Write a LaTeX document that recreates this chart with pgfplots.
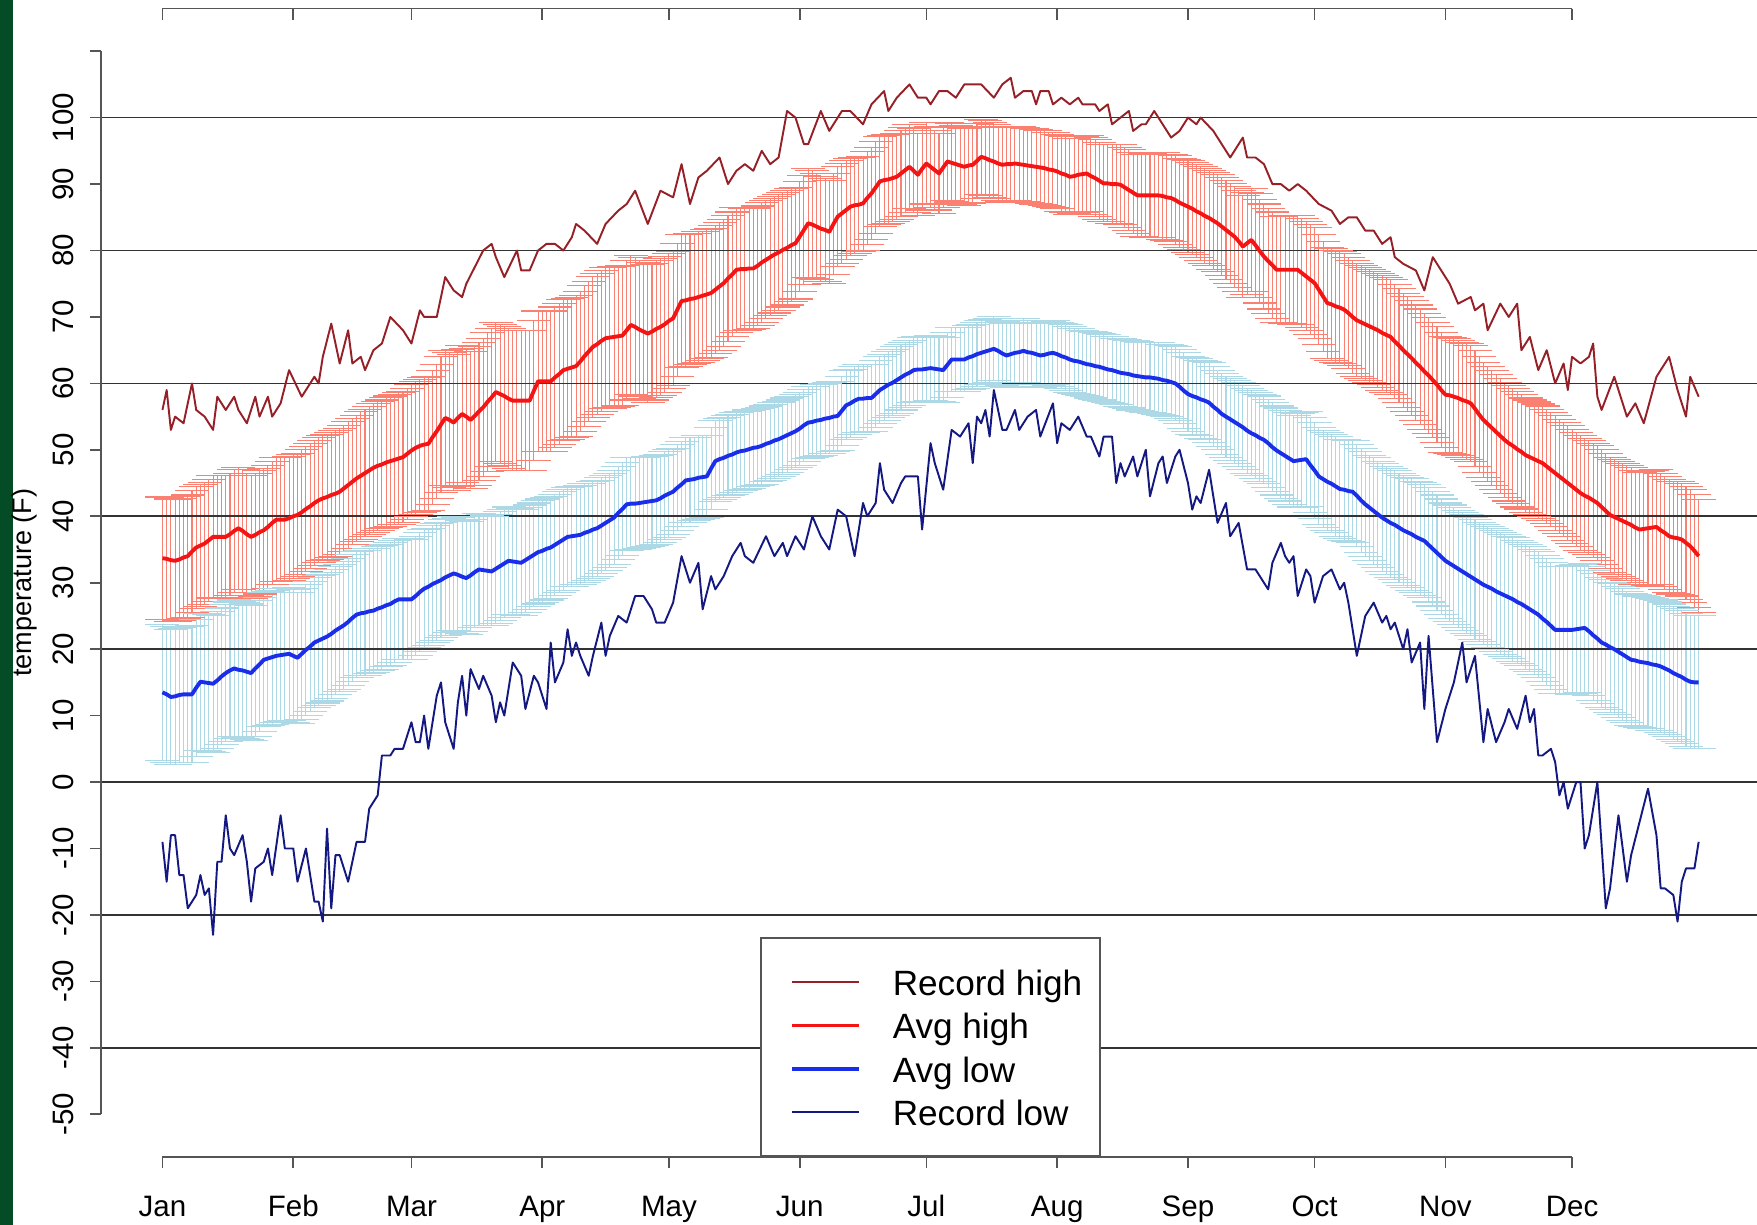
\documentclass[border=0pt]{standalone}
\usepackage{fontspec}
\setmainfont{Liberation Sans}
\usepackage{pgfplots}
\usepackage{pgfplotstable}
\pgfplotsset{compat=1.18}
\definecolor{rhcol}{RGB}{150,32,40}
\definecolor{ahcol}{RGB}{245,20,20}
\definecolor{alcol}{RGB}{25,45,235}
\definecolor{rlcol}{RGB}{20,25,130}
\definecolor{salmonc}{RGB}{250,128,114}
\definecolor{lblue}{RGB}{173,216,230}
\definecolor{stripgreen}{RGB}{3,76,38}
\definecolor{axgray}{RGB}{85,85,85}
\pgfplotstableread{
d ah sh al sl
1 33.7 9.2 13.5 10.2
2 33.6 9.2 13.2 10.2
3 33.4 9.2 12.8 10.2
4 33.3 9.2 12.9 10.2
5 33.5 9.2 13.1 10.2
6 33.8 9.2 13.2 10.2
7 34.0 9.2 13.2 10.2
8 34.7 9.2 13.2 10.3
9 35.3 9.2 14.2 10.3
10 35.6 9.2 15.1 10.3
11 35.9 9.2 15.0 10.3
12 36.4 9.2 14.9 10.3
13 36.9 9.2 14.8 10.3
14 36.9 9.2 15.3 10.3
15 36.9 9.2 15.9 10.3
16 36.9 9.2 16.4 10.3
17 37.3 9.2 16.8 10.3
18 37.8 9.2 17.1 10.3
19 38.2 9.2 16.9 10.2
20 37.8 9.2 16.8 10.2
21 37.3 9.2 16.6 10.2
22 36.9 9.2 16.4 10.2
23 37.2 9.3 17.1 10.2
24 37.6 9.3 17.7 10.1
25 37.9 9.3 18.4 10.1
26 38.4 9.3 18.6 10.1
27 39.0 9.3 18.8 10.1
28 39.5 9.3 19.0 10.1
29 39.5 9.3 19.1 10.0
30 39.5 9.3 19.2 10.0
31 39.7 9.3 19.3 10.0
32 40.0 9.3 19.0 10.0
33 40.2 9.3 18.7 9.9
34 40.6 9.4 19.3 9.9
35 41.1 9.4 19.9 9.9
36 41.5 9.4 20.4 9.8
37 42.0 9.4 21.0 9.8
38 42.4 9.4 21.3 9.8
39 42.7 9.4 21.6 9.7
40 42.9 9.4 21.9 9.7
41 43.2 9.4 22.3 9.7
42 43.4 9.5 22.8 9.6
43 43.7 9.5 23.2 9.6
44 44.2 9.5 23.6 9.6
45 44.7 9.5 24.1 9.5
46 45.2 9.5 24.7 9.5
47 45.7 9.5 25.2 9.5
48 46.1 9.6 25.4 9.4
49 46.5 9.6 25.5 9.4
50 46.9 9.6 25.7 9.4
51 47.3 9.7 25.8 9.3
52 47.6 9.7 26.1 9.3
53 47.8 9.7 26.3 9.3
54 48.1 9.8 26.6 9.2
55 48.3 9.8 26.8 9.2
56 48.5 9.8 27.2 9.2
57 48.7 9.9 27.5 9.1
58 48.9 9.9 27.5 9.1
59 49.4 9.9 27.5 9.1
60 49.9 10.0 27.5 9.0
61 50.3 10.0 28.0 9.0
62 50.6 10.0 28.6 8.9
63 50.8 10.1 29.1 8.9
64 50.9 10.1 29.4 8.8
65 51.9 10.1 29.8 8.8
66 52.8 10.1 30.1 8.8
67 53.8 10.2 30.4 8.7
68 54.8 10.2 30.8 8.7
69 54.5 10.2 31.1 8.6
70 54.1 10.2 31.4 8.6
71 54.8 10.3 31.2 8.6
72 55.4 10.3 30.9 8.5
73 55.0 10.3 30.7 8.5
74 54.5 10.3 31.1 8.4
75 55.1 10.4 31.6 8.4
76 55.8 10.4 32.0 8.4
77 56.4 10.4 31.9 8.3
78 57.2 10.4 31.8 8.3
79 57.9 10.4 31.7 8.2
80 58.7 10.4 32.1 8.2
81 58.4 10.4 32.5 8.2
82 58.1 10.4 32.9 8.1
83 57.7 10.5 33.3 8.1
84 57.4 10.5 33.2 8.0
85 57.4 10.5 33.1 8.0
86 57.4 10.5 33.0 8.0
87 57.4 10.5 33.4 7.9
88 57.4 10.5 33.8 7.9
89 58.9 10.5 34.2 7.8
90 60.3 10.6 34.6 7.8
91 60.3 10.6 34.8 7.8
92 60.3 10.6 35.1 7.7
93 60.3 10.6 35.3 7.7
94 60.9 10.6 35.7 7.6
95 61.4 10.6 36.1 7.6
96 62.0 10.6 36.5 7.6
97 62.2 10.6 36.9 7.5
98 62.4 10.6 37.0 7.5
99 62.6 10.6 37.1 7.4
100 63.3 10.6 37.2 7.4
101 64.1 10.6 37.5 7.4
102 64.8 10.6 37.7 7.3
103 65.5 10.6 38.0 7.3
104 65.9 10.6 38.2 7.2
105 66.4 10.6 38.6 7.2
106 66.8 10.6 39.0 7.2
107 66.9 10.6 39.4 7.1
108 67.0 10.6 39.8 7.1
109 67.1 10.5 40.5 7.0
110 67.2 10.5 41.1 7.0
111 68.0 10.5 41.8 7.0
112 68.8 10.5 41.9 6.9
113 68.5 10.4 41.9 6.9
114 68.1 10.4 42.0 6.8
115 67.8 10.4 42.1 6.8
116 67.5 10.4 42.2 6.8
117 67.8 10.3 42.3 6.7
118 68.2 10.3 42.4 6.7
119 68.5 10.3 42.7 6.6
120 68.9 10.2 43.1 6.6
121 69.4 10.1 43.4 6.6
122 69.8 10.1 43.7 6.5
123 71.1 10.0 44.3 6.5
124 72.4 10.0 44.8 6.4
125 72.5 9.9 45.4 6.4
126 72.7 9.9 45.5 6.4
127 72.8 9.8 45.6 6.3
128 73.0 9.8 45.8 6.3
129 73.2 9.7 45.9 6.2
130 73.4 9.7 46.0 6.2
131 73.6 9.7 47.2 6.2
132 74.1 9.6 48.3 6.1
133 74.6 9.6 48.6 6.1
134 75.1 9.5 48.8 6.0
135 75.8 9.5 49.1 6.0
136 76.4 9.4 49.3 6.0
137 77.1 9.4 49.6 6.0
138 77.2 9.3 49.8 5.9
139 77.2 9.2 49.9 5.9
140 77.3 9.2 50.1 5.9
141 77.3 9.1 50.3 5.8
142 77.7 9.0 50.4 5.8
143 78.2 9.0 50.6 5.8
144 78.6 8.9 50.9 5.7
145 79.0 8.8 51.1 5.7
146 79.4 8.8 51.4 5.7
147 79.7 8.7 51.6 5.6
148 80.1 8.6 51.9 5.6
149 80.4 8.6 52.2 5.6
150 80.8 8.5 52.5 5.5
151 81.1 8.4 52.8 5.5
152 82.1 8.3 53.2 5.5
153 83.1 8.2 53.7 5.4
154 84.1 8.2 54.1 5.4
155 83.9 8.1 54.2 5.4
156 83.6 8.0 54.4 5.4
157 83.3 7.9 54.5 5.3
158 83.1 7.8 54.7 5.3
159 82.8 7.7 54.8 5.3
160 84.0 7.6 55.0 5.3
161 85.1 7.5 55.1 5.2
162 85.6 7.5 55.9 5.2
163 86.1 7.4 56.7 5.2
164 86.6 7.3 57.0 5.1
165 86.8 7.2 57.4 5.1
166 86.9 7.1 57.7 5.1
167 87.1 7.1 57.7 5.1
168 87.9 7.0 57.8 5.1
169 88.6 6.9 57.8 5.0
170 89.5 6.9 58.4 5.0
171 90.4 6.8 59.0 5.0
172 90.6 6.7 59.4 5.0
173 90.7 6.7 59.8 5.0
174 90.9 6.6 60.1 5.0
175 91.1 6.5 60.5 5.0
176 91.6 6.5 60.9 4.9
177 92.1 6.4 61.3 4.9
178 92.6 6.3 61.6 4.9
179 92.0 6.3 62.0 4.9
180 91.4 6.2 62.1 4.9
181 92.3 6.2 62.1 4.9
182 93.1 6.1 62.2 4.9
183 92.6 6.1 62.3 4.9
184 92.1 6.0 62.2 4.9
185 91.6 6.0 62.1 4.9
186 92.5 6.0 62.0 4.9
187 93.4 5.9 62.8 4.9
188 93.2 5.9 63.6 4.8
189 93.0 5.8 63.6 4.8
190 92.8 5.8 63.6 4.8
191 92.6 5.8 63.6 4.8
192 92.8 5.7 63.9 4.8
193 92.9 5.7 64.1 4.8
194 93.5 5.6 64.4 4.8
195 94.1 5.6 64.6 4.8
196 93.9 5.6 64.8 4.8
197 93.6 5.6 65.0 4.8
198 93.4 5.6 65.2 4.8
199 93.1 5.6 64.9 4.8
200 92.9 5.6 64.5 4.8
201 93.0 5.6 64.2 4.8
202 93.0 5.6 64.4 4.8
203 93.1 5.6 64.6 4.8
204 93.0 5.6 64.7 4.8
205 92.9 5.6 64.9 4.8
206 92.8 5.6 64.7 4.8
207 92.7 5.6 64.6 4.8
208 92.6 5.6 64.4 4.8
209 92.5 5.6 64.2 4.8
210 92.4 5.6 64.3 4.8
211 92.2 5.6 64.5 4.8
212 92.1 5.6 64.6 4.8
213 91.9 5.6 64.4 4.8
214 91.6 5.7 64.1 4.9
215 91.4 5.7 63.9 4.9
216 91.1 5.7 63.6 4.9
217 91.2 5.7 63.4 4.9
218 91.4 5.7 63.3 4.9
219 91.5 5.7 63.1 4.9
220 91.6 5.7 62.9 4.9
221 91.2 5.8 62.8 5.0
222 90.9 5.8 62.6 5.0
223 90.5 5.8 62.5 5.0
224 90.1 5.8 62.3 5.0
225 90.1 5.8 62.1 5.0
226 90.0 5.9 62.0 5.0
227 90.0 5.9 61.8 5.0
228 89.9 6.0 61.6 5.1
229 89.5 6.0 61.5 5.1
230 89.1 6.1 61.4 5.1
231 88.7 6.1 61.2 5.2
232 88.3 6.2 61.1 5.2
233 88.3 6.2 61.0 5.2
234 88.3 6.3 60.9 5.3
235 88.3 6.3 60.9 5.3
236 88.3 6.4 60.8 5.3
237 88.3 6.4 60.7 5.4
238 88.2 6.5 60.5 5.4
239 88.0 6.5 60.4 5.4
240 87.9 6.6 60.2 5.5
241 87.6 6.7 60.0 5.6
242 87.2 6.7 59.5 5.6
243 86.9 6.8 58.9 5.7
244 86.6 6.9 58.4 5.7
245 86.3 6.9 58.1 5.8
246 85.9 7.0 57.9 5.8
247 85.6 7.1 57.6 5.9
248 85.2 7.1 57.4 5.9
249 84.9 7.2 57.1 6.0
250 84.5 7.3 56.5 6.0
251 84.1 7.3 56.0 6.0
252 83.6 7.4 55.4 6.1
253 83.1 7.5 55.0 6.1
254 82.6 7.5 54.6 6.2
255 82.1 7.6 54.2 6.2
256 81.4 7.6 53.8 6.3
257 80.6 7.7 53.4 6.3
258 81.1 7.7 52.9 6.4
259 81.6 7.8 52.5 6.4
260 80.8 7.8 52.2 6.5
261 79.9 7.8 51.8 6.5
262 79.1 7.9 51.5 6.6
263 78.4 7.9 51.0 6.6
264 77.8 8.0 50.4 6.7
265 77.1 8.0 49.9 6.7
266 77.1 8.0 49.5 6.8
267 77.1 8.1 49.1 6.8
268 77.1 8.1 48.7 6.9
269 77.1 8.2 48.3 6.9
270 77.1 8.2 48.4 7.0
271 76.6 8.2 48.5 7.1
272 76.1 8.2 48.6 7.1
273 75.6 8.3 47.7 7.2
274 75.1 8.3 46.9 7.2
275 74.1 8.3 46.0 7.3
276 73.1 8.3 45.6 7.3
277 72.1 8.3 45.2 7.4
278 71.9 8.4 44.9 7.4
279 71.6 8.4 44.5 7.5
280 71.4 8.4 44.1 7.5
281 71.1 8.4 44.0 7.6
282 70.6 8.4 43.8 7.6
283 70.0 8.5 43.7 7.7
284 69.5 8.5 43.1 7.7
285 69.2 8.5 42.4 7.8
286 68.9 8.5 41.8 7.9
287 68.6 8.5 41.3 7.9
288 68.3 8.5 40.8 8.0
289 68.0 8.6 40.3 8.0
290 67.6 8.6 39.8 8.1
291 67.3 8.6 39.4 8.1
292 67.0 8.6 39.0 8.2
293 66.3 8.6 38.7 8.2
294 65.7 8.6 38.3 8.2
295 65.0 8.6 37.9 8.3
296 64.4 8.7 37.6 8.3
297 63.8 8.7 37.3 8.4
298 63.1 8.7 36.9 8.4
299 62.5 8.7 36.6 8.5
300 61.8 8.7 36.3 8.5
301 61.2 8.7 35.7 8.6
302 60.5 8.7 35.1 8.6
303 59.8 8.7 34.5 8.7
304 59.0 8.7 33.9 8.7
305 58.3 8.7 33.3 8.7
306 58.2 8.7 32.9 8.8
307 58.0 8.7 32.5 8.8
308 57.8 8.7 32.1 8.8
309 57.5 8.7 31.7 8.9
310 57.3 8.7 31.3 8.9
311 57.0 8.7 30.9 8.9
312 56.2 8.7 30.5 9.0
313 55.3 8.7 30.1 9.0
314 54.5 8.7 29.7 9.0
315 53.9 8.7 29.4 9.1
316 53.3 8.7 29.1 9.1
317 52.7 8.7 28.7 9.1
318 52.1 8.7 28.4 9.2
319 51.5 8.7 28.1 9.2
320 51.0 8.7 27.8 9.2
321 50.6 8.7 27.5 9.3
322 50.1 8.7 27.1 9.3
323 49.7 8.6 26.8 9.3
324 49.2 8.6 26.4 9.4
325 48.9 8.6 26.0 9.4
326 48.6 8.6 25.6 9.4
327 48.3 8.6 25.2 9.5
328 48.0 8.6 24.6 9.5
329 47.5 8.6 24.1 9.5
330 47.0 8.6 23.5 9.6
331 46.5 8.6 22.9 9.6
332 46.0 8.6 22.9 9.6
333 45.5 8.6 22.9 9.6
334 45.0 8.6 22.9 9.6
335 44.5 8.6 22.9 9.7
336 44.0 8.6 23.0 9.7
337 43.5 8.6 23.1 9.7
338 43.1 8.6 23.2 9.7
339 42.8 8.6 22.7 9.7
340 42.4 8.6 22.1 9.8
341 42.0 8.6 21.6 9.8
342 41.4 8.6 21.0 9.8
343 40.8 8.6 20.7 9.8
344 40.2 8.6 20.3 9.8
345 39.9 8.6 20.0 9.9
346 39.6 8.6 19.6 9.9
347 39.3 8.6 19.2 9.9
348 39.0 8.6 18.8 9.9
349 38.7 8.6 18.4 9.9
350 38.3 8.6 18.3 9.9
351 38.0 8.6 18.1 9.9
352 38.1 8.6 18.0 9.9
353 38.2 8.6 17.9 9.9
354 38.3 8.6 17.7 9.9
355 38.4 8.6 17.6 9.9
356 37.9 8.5 17.4 10.0
357 37.5 8.5 17.1 10.0
358 37.0 8.5 16.8 10.0
359 36.8 8.5 16.4 10.0
360 36.7 8.5 16.1 10.0
361 36.5 8.5 15.8 10.0
362 36.0 8.5 15.4 10.0
363 35.5 8.5 15.1 10.0
364 34.8 8.5 15.0 10.0
365 34.0 8.5 15.0 10.0
}\daily
\begin{document}
\begin{tikzpicture}
\path[use as bounding box] (0,0) rectangle (175.7mm,122.5mm);
\fill[stripgreen] (0,0) rectangle (1.34mm,122.5mm);
\begin{axis}[
  at={(10.1mm,6.82mm)}, anchor=south west,
  scale only axis, width=165.91mm, height=114.81mm,
  xmin=-13.56, xmax=379.56, ymin=-56.4, ymax=116.4,
  clip=false,
  axis line style={draw=none},
  major tick length=0pt,
  xtick={1,32,60,91,121,152,182,213,244,274,305,335},
  xticklabels={Jan,Feb,Mar,Apr,May,Jun,Jul,Aug,Sep,Oct,Nov,Dec},
  ytick={-50,-40,-30,-20,-10,0,10,20,30,40,50,60,70,80,90,100,110},
  yticklabels={-50,-40,-30,-20,-10,0,10,20,30,40,50,60,70,80,90,100,{}},
  xticklabel style={font=\fontsize{8.4}{10}\selectfont, anchor=north, inner sep=0pt, text height=6.0pt, text depth=0pt, yshift=-3.82mm},
  yticklabel style={font=\fontsize{8.4}{10}\selectfont, xshift=-2.64mm, rotate=90, anchor=south, inner sep=0pt, text depth=0pt},
  ylabel={temperature (F)},
  ylabel style={at={(axis description cs:-0.0461,0.5)}, anchor=center, inner sep=0pt, font=\fontsize{7.7}{9}\selectfont},
  legend style={at={(0.5,0)}, anchor=south, draw=axgray, line width=0.5pt, fill=white,
    inner xsep=1.8mm, inner ysep=7.5pt, row sep=2.3pt, column sep=3.2mm,
    font=\fontsize{10}{12}\selectfont,
    nodes={inner sep=0pt, text height=8.8pt, text depth=1.2pt}},
  legend cell align=left,
  legend image code/.code={\path[draw=none] (-1.3mm,0) -- (6.7mm,0); \draw[#1] (0mm,0mm) -- (6.7mm,0mm);},
]
% error bars: avg high +- sd (vertical lines)
\addplot[draw=none, mark=none, forget plot,
  error bars/.cd, y dir=both, y explicit, error mark=none,
  error bar style={draw=salmonc, line width=0.3pt}]
  table[x=d, y=ah, y error=sh] {\daily};
% error bars: avg low +- sd (vertical lines)
\addplot[draw=none, mark=none, forget plot,
  error bars/.cd, y dir=both, y explicit, error mark=none,
  error bar style={draw=lblue, line width=0.3pt}]
  table[x=d, y=al, y error=sl] {\daily};
% caps of the error bars
\addplot[salmonc, only marks, mark=-, mark size=1.7mm, mark options={line width=0.3pt}, forget plot]
  table[x=d, y expr=\thisrow{ah}+\thisrow{sh}] {\daily};
\addplot[salmonc, only marks, mark=-, mark size=1.7mm, mark options={line width=0.3pt}, forget plot]
  table[x=d, y expr=\thisrow{ah}-\thisrow{sh}] {\daily};
\addplot[lblue, only marks, mark=-, mark size=1.7mm, mark options={line width=0.3pt}, forget plot]
  table[x=d, y expr=\thisrow{al}+\thisrow{sl}] {\daily};
\addplot[lblue, only marks, mark=-, mark size=1.7mm, mark options={line width=0.3pt}, forget plot]
  table[x=d, y expr=\thisrow{al}-\thisrow{sl}] {\daily};
% grid lines
\pgfplotsinvokeforeach{-40,-20,0,20,40,60,80,100}{
  \draw[black!80, line width=0.45pt] (axis cs:-13.56,#1) -- (axis cs:379.56,#1);
}
% axes
\draw[axgray, line width=0.45pt] (axis cs:-13.56,-50) -- (axis cs:-13.56,110);
\pgfplotsinvokeforeach{-50,-40,-30,-20,-10,0,10,20,30,40,50,60,70,80,90,100,110}{
  \draw[axgray, line width=0.45pt] (axis cs:-13.56,#1) -- ([xshift=-1.1mm]axis cs:-13.56,#1);
}
\draw[axgray, line width=0.45pt] (axis cs:1,-56.4) -- (axis cs:335,-56.4);
\draw[axgray, line width=0.45pt] (axis cs:1,116.4) -- (axis cs:335,116.4);
\pgfplotsinvokeforeach{1,32,60,91,121,152,182,213,244,274,305,335}{
  \draw[axgray, line width=0.45pt] (axis cs:#1,-56.4) -- ([yshift=-1.1mm]axis cs:#1,-56.4);
  \draw[axgray, line width=0.45pt] (axis cs:#1,116.4) -- ([yshift=-1.1mm]axis cs:#1,116.4);
}
% record high
\addplot[rhcol, line width=0.55pt, line join=round, mark=none] coordinates {
(1,56)(2,59)(3,53)(4,55)(6,54)(8,60)(9,56)(11,55)(13,53)(14,58)(16,56)(18,58)(19,56)(21,54)(23,58)(24,55)(26,58)(27,55)(29,57)(31,62)(34,58)(37,61)(38,60)(39,64)(41,69)(43,63)(45,68)(46,63)(48,64)(49,62)(51,65)(53,66)(55,70)(58,68)(60,66)(62,71)(63,70)(66,70)(68,76)(70,74)(72,73)(73,75)(77,80)(79,81)(80,79)(82,76)(85,80)(86,77)(88,77)(90,80)(92,81)(94,81)(96,80)(98,82)(99,84)(101,83)(104,81)(106,84)(109,86)(111,87)(113,89)(116,84)(119,89)(122,88)(124,93)(126,87)(128,91)(130,92)(133,94)(135,90)(137,92)(139,93)(141,92)(143,95)(145,93)(147,94)(149,101)(151,100)(153,96)(154,96)(157,101)(159,98)(162,101)(164,101)(167,99)(169,102)(172,104)(173,101)(175,103)(178,105)(180,103)(182,103)(183,102)(185,104)(187,104)(189,103)(191,105)(192,105)(195,105)(198,103)(200,105)(202,106)(203,103)(205,104)(207,104)(208,102)(209,104)(211,104)(212,102)(214,103)(216,102)(218,103)(219,102)(222,102)(223,101)(225,102)(226,99)(228,100)(230,101)(231,98)(233,99)(234,99)(236,101)(238,99)(240,97)(242,98)(244,100)(246,99)(247,100)(250,98)(252,96)(254,94)(256,96)(257,97)(258,94)(260,94)(262,93)(264,90)(266,90)(268,89)(270,90)(272,89)(275,87)(278,86)(280,84)(282,85)(284,85)(286,83)(288,83)(290,81)(292,82)(293,79)(295,78)(298,77)(300,74)(302,79)(305,76)(306,75)(308,72)(311,73)(312,71)(314,72)(315,68)(318,72)(320,70)(322,72)(323,65)(325,67)(327,62)(329,65)(331,60)(333,63)(334,59)(335,64)(337,63)(339,64)(340,66)(341,58)(342,56)(345,61)(348,55)(350,57)(352,54)(355,61)(358,64)(360,59)(362,55)(363,61)(365,58)
};
\addlegendentry{Record high}
\addplot[ahcol, line width=1.1pt, line join=round, mark=none] table[x=d, y=ah] {\daily};
\addlegendentry{Avg high}
\addplot[alcol, line width=1.1pt, line join=round, mark=none] table[x=d, y=al] {\daily};
\addlegendentry{Avg low}
\addplot[rlcol, line width=0.55pt, line join=round, mark=none] coordinates {
(1,-9)(2,-15)(3,-8)(4,-8)(5,-14)(6,-14)(7,-19)(9,-17)(10,-14)(11,-17)(12,-16)(13,-23)(14,-12)(15,-12)(16,-5)(17,-10)(18,-11)(20,-8)(21,-12)(22,-18)(23,-13)(25,-12)(26,-10)(27,-14)(29,-5)(30,-10)(32,-10)(33,-15)(35,-10)(37,-18)(38,-18)(39,-21)(40,-7)(41,-19)(42,-11)(43,-11)(45,-15)(46,-12)(47,-9)(49,-9)(50,-4)(52,-2)(53,4)(55,4)(56,5)(57,5)(58,5)(59,7)(60,9)(61,6)(62,6)(63,10)(64,5)(66,13)(67,15)(68,9)(70,5)(71,12)(72,16)(73,10)(74,17)(76,14)(77,16)(79,13)(80,9)(81,12)(82,10)(84,18)(86,16)(87,11)(89,16)(90,15)(92,11)(93,21)(94,15)(96,18)(97,23)(98,19)(99,21)(100,19)(102,16)(103,19)(105,24)(106,19)(107,22)(109,25)(111,24)(113,28)(115,28)(117,26)(118,24)(120,24)(122,27)(124,34)(126,30)(128,33)(129,26)(131,31)(132,29)(134,31)(136,34)(138,36)(139,34)(141,33)(144,37)(146,34)(148,36)(149,34)(151,37)(153,35)(155,40)(157,37)(159,35)(161,41)(163,40)(165,34)(167,42)(168,40)(170,42)(171,48)(172,44)(174,42)(176,45)(177,46)(180,46)(181,38)(183,51)(184,48)(186,44)(188,53)(190,52)(192,54)(193,48)(194,55)(195,54)(196,56)(197,52)(198,59)(200,53)(201,53)(203,56)(204,53)(206,55)(208,56)(209,52)(212,57)(213,51)(214,54)(216,53)(218,55)(220,52)(221,52)(223,49)(224,52)(226,52)(227,45)(228,48)(229,46)(231,49)(232,46)(234,50)(235,43)(237,48)(238,49)(239,45)(241,49)(242,50)(244,45)(245,41)(246,43)(247,42)(249,47)(251,39)(253,42)(254,37)(256,39)(258,32)(260,32)(263,29)(264,33)(266,36)(267,34)(268,33)(269,34)(270,28)(272,32)(273,31)(274,27)(276,31)(278,32)(280,29)(281,30)(282,27)(284,19)(286,25)(288,27)(290,24)(291,25)(292,23)(293,24)(295,20)(296,23)(297,18)(299,21)(300,11)(301,22)(302,14)(303,6)(305,11)(307,15)(309,21)(310,15)(312,19)(314,6)(315,11)(317,6)(319,9)(320,11)(322,8)(324,13)(325,9)(326,11)(327,4)(328,4)(330,5)(331,3)(332,-2)(333,0)(334,-4)(336,0)(337,0)(338,-10)(339,-8)(341,0)(343,-19)(344,-16)(346,-5)(348,-15)(349,-11)(351,-6)(353,-1)(355,-8)(356,-16)(357,-16)(359,-17)(360,-21)(361,-15)(362,-13)(364,-13)(365,-9)
};
\addlegendentry{Record low}
\end{axis}
\end{tikzpicture}
\end{document}
